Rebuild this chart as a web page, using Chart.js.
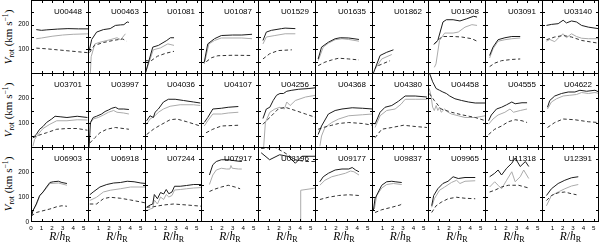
<!DOCTYPE html>
<html><head><meta charset="utf-8">
<script src="https://cdn.jsdelivr.net/npm/chart.js@4.4.0/dist/chart.umd.min.js"></script>
<style>
html,body{margin:0;padding:0;background:#fff;}
#wrap{position:relative;width:600px;height:245px;overflow:hidden;background:#fff;}
canvas{position:absolute;}
.ttl{position:absolute;font:8px "Liberation Sans",Arial,sans-serif;color:#000;white-space:nowrap;line-height:8px;text-align:right;}
.yt{position:absolute;font:11px "Liberation Serif","DejaVu Serif",serif;color:#000;white-space:nowrap;transform:translate(-50%,-50%) rotate(-90deg);line-height:11px;}
.xt{position:absolute;font:11.5px "Liberation Serif","DejaVu Serif",serif;color:#000;white-space:nowrap;transform:translate(-50%,-50%);line-height:11px;}
sub{font-size:70%;vertical-align:-0.3em;line-height:0;}
sup{font-size:70%;vertical-align:0.5em;line-height:0;}
</style></head>
<body><div id="wrap"></div>
<script>
// ---------------- data ----------------
const galaxies = ['U00448','U00463','U01081','U01087','U01529','U01635','U01862','U01908','U03091','U03140',
                  'U03701','U03997','U04036','U04107','U04256','U04368','U04380','U04458','U04555','U04622',
                  'U06903','U06918','U07244','U07917','U08196','U09177','U09837','U09965','U11318','U12391'];

const yTickLabels = [100, 200];
const yTickLabelsBottom = [0, 100, 200];
const xTickLabelsFirst = [0, 1, 2, 3, 4, 5];
const xTickLabels = [1, 2, 3, 4, 5];

// [R/hR, Vrot] pairs: black = solid dark curve, grey = solid light curve, dash = dashed curve
const U00448_black = [[0.5,180],[1.0,177],[1.5,179],[2.5,182],[3.5,184],[4.5,183],[5.5,183]];
const U00448_grey  = [[0.5,143],[1.0,146],[2.0,153],[3.0,158],[4.0,161],[5.5,163]];
const U00448_dash  = [[0.5,105],[1.5,102],[2.5,98],[3.5,94],[4.5,90],[5.5,86]];

const U00463_black = [[0.12,95],[0.35,140],[0.82,170],[1.46,180],[2.1,184],[2.6,197],[3.08,199],[3.4,200],[3.72,211],[3.88,209]];
const U00463_grey  = [[0.22,0],[0.3,70],[0.65,122],[1.15,129],[2.1,139],[2.75,147],[3.1,139],[3.55,163]];
const U00463_dash  = [[0.15,87],[0.6,116],[1.5,128],[2.5,137],[3.3,142],[3.65,133]];

const U01081_black = [[0.05,5],[0.75,109],[1.3,116],[2.1,136],[2.45,147],[2.8,147]];
const U01081_grey  = [[0.05,5],[0.8,98],[1.5,106],[2.2,122],[2.8,116]];
const U01081_dash  = [[0.0,54],[0.6,54],[1.2,72],[2.0,84],[2.8,92]];

const U01087_black = [[0.31,48],[0.64,122],[1.28,143],[1.93,156],[3.0,158],[3.87,158],[4.84,161]];
const U01087_grey  = [[0.31,41],[0.75,122],[1.28,136],[1.93,146],[3.87,146],[4.84,143]];
const U01087_dash  = [[0.5,50],[1.0,66],[1.6,74],[3.0,76],[4.84,75]];

const U01529_black = [[0.47,136],[0.79,170],[1.27,177],[2.24,184],[2.57,186],[3.54,184]];
const U01529_grey  = [[0.47,122],[0.79,150],[1.6,156],[2.57,163],[3.54,163]];
const U01529_dash  = [[0.47,61],[1.1,82],[1.92,95],[3.21,98]];

const U01635_black = [[0.3,61],[0.62,109],[1.27,129],[1.91,143],[2.4,147],[3.2,146],[4.17,140]];
const U01635_grey  = [[0.3,54],[0.78,109],[1.27,125],[1.91,139],[2.56,143],[3.2,140],[4.17,133]];
const U01635_dash  = [[0.3,34],[0.94,48],[1.59,57],[2.24,64],[3.2,61],[4.17,57]];

const U01862_black = [[0.13,3],[0.78,75],[1.42,88],[2.07,98]];
const U01862_grey  = [[0.29,20],[0.94,61],[1.91,79]];
const U01862_dash  = [[0.61,34],[1.74,54]];

const U01908_black = [[0.54,120],[0.6,122],[0.93,136],[1.42,211],[1.74,220],[2.38,220],[3.03,215],[3.67,224],[4.32,234],[4.65,231]];
const U01908_grey  = [[0.6,27],[0.76,41],[1.09,136],[1.58,166],[2.38,166],[2.87,170],[3.51,190],[4.16,200],[4.65,197]];
const U01908_dash  = [[0.6,122],[1.09,143],[1.42,152],[2.38,152],[3.19,150],[4.16,143],[4.65,133]];

const U03091_black = [[0.44,75],[0.76,109],[1.24,139],[1.89,147],[2.54,152],[3.34,152]];
const U03091_grey  = [[0.44,65],[0.76,102],[1.24,133],[1.89,139],[2.54,143],[3.34,146]];
const U03091_dash  = [[0.44,30],[0.92,44],[1.57,54],[2.54,59],[3.34,61]];

const U03140_black = [[0.43,197],[0.91,201],[1.56,204],[2.04,218],[2.36,207],[2.85,215],[3.33,211],[3.82,197],[4.47,190],[5.43,184]];
const U03140_grey  = [[0.43,133],[0.75,140],[1.23,131],[1.72,152],[2.04,163],[2.36,147],[2.85,163],[3.33,152],[3.82,145],[4.47,143],[5.43,143]];
const U03140_dash  = [[0.43,139],[1.23,150],[2.04,156],[2.85,150],[3.82,136],[5.43,125]];

const U03701_black = [[0.18,41],[0.5,54],[0.82,75],[1.14,86],[1.47,102],[1.96,116],[2.28,127],[2.76,125],[3.41,122],[4.38,127],[5.35,122]];
const U03701_grey  = [[0.18,7],[0.34,34],[0.66,54],[1.14,78],[1.79,95],[2.44,109],[3.41,109],[4.38,113],[5.35,112]];
const U03701_dash  = [[0.18,41],[0.66,50],[1.47,61],[2.44,75],[3.41,78],[4.38,78],[5.35,71]];

const U03997_black = [[0.1,0],[0.23,102],[0.49,122],[0.81,127],[1.29,136],[1.62,146],[1.94,152],[2.26,159],[2.59,163],[2.91,156],[3.39,156],[3.88,154]];
const U03997_grey  = [[0.17,95],[0.49,116],[0.97,122],[1.46,132],[1.94,143],[2.43,150],[2.75,143],[3.39,140],[3.88,136]];
const U03997_dash  = [[0.17,20],[0.65,41],[1.13,61],[1.78,75],[2.59,82],[3.88,75]];

const U04036_black = [[0.16,109],[0.48,129],[0.81,122],[0.97,143],[1.29,156],[1.78,184],[2.26,195],[2.91,195],[3.72,190],[4.69,184],[5.33,180]];
const U04036_grey  = [[0.16,95],[0.48,116],[0.97,129],[1.29,143],[1.78,156],[2.42,167],[3.39,173],[4.69,173],[5.33,170]];
const U04036_dash  = [[0.16,54],[0.81,75],[1.45,91],[2.42,113],[3.07,116],[4.04,105],[5.33,88]];

const U04107_black = [[0.31,102],[0.64,122],[1.12,156],[1.93,159],[2.58,163],[3.54,166]];
const U04107_grey  = [[0.31,88],[0.64,109],[1.12,136],[1.93,136],[2.58,140],[3.54,143]];
const U04107_dash  = [[0.48,61],[1.12,75],[1.93,88],[3.54,91]];

const U04256_black = [[0.47,118],[0.79,156],[1.12,163],[1.44,190],[1.76,211],[2.08,218],[2.41,218],[2.73,227],[3.21,231],[3.86,235],[4.83,238],[5.48,241]];
const U04256_grey  = [[0.53,0],[0.7,102],[1.12,143],[1.6,156],[2.08,163],[2.5,156],[2.73,184],[3.05,170],[3.54,190],[4.51,204],[5.48,211]];
const U04256_dash  = [[0.47,95],[1.28,129],[1.92,156],[2.57,163],[3.54,150],[4.51,136],[5.48,122]];

const U04368_black = [[0.3,54],[0.62,88],[1.27,136],[1.91,150],[2.56,156],[3.53,161],[4.5,159],[5.47,156]];
const U04368_grey  = [[0.46,7],[0.62,48],[0.94,82],[1.59,102],[2.24,116],[3.2,129],[4.5,133],[5.47,136]];
const U04368_dash  = [[0.3,75],[0.78,82],[1.59,91],[2.24,98],[3.2,102],[4.5,98],[5.47,91]];

const U04380_black = [[0.29,95],[0.78,143],[1.26,163],[1.91,170],[2.55,187],[3.2,208],[4.17,208],[5.3,204]];
const U04380_grey  = [[0.29,82],[0.78,129],[1.42,150],[2.23,156],[2.8,175],[3.2,195],[4.17,195],[5.3,195]];
const U04380_dash  = [[0.29,41],[0.94,75],[1.91,82],[3.04,91],[4.17,86],[5.3,82]];

const U04458_black = [[0.05,310],[0.44,265],[0.77,238],[1.09,231],[1.41,224],[1.74,218],[2.06,208],[2.55,197],[3.19,190],[3.84,184],[4.48,180],[5.45,180]];
const U04458_grey  = [[0.12,238],[0.28,211],[0.44,163],[0.6,150],[0.77,170],[0.93,150],[1.09,163],[1.25,143],[1.58,156],[1.9,143],[2.22,136],[2.87,129],[3.51,122],[4.48,122],[5.45,129]];
const U04458_dash  = [[0.12,218],[0.6,190],[1.25,156],[2.22,143],[3.19,133],[4.48,122],[5.45,109]];

const U04555_black = [[0.34,109],[0.6,132],[1.09,156],[1.57,163],[2.05,173],[2.54,184],[2.86,177],[3.51,181],[3.99,181]];
const U04555_grey  = [[0.34,95],[0.76,116],[1.24,132],[1.89,143],[2.37,156],[2.7,143],[3.34,150],[3.99,156]];
const U04555_dash  = [[0.34,54],[0.92,75],[1.57,88],[2.21,105],[2.86,113],[3.51,109],[3.99,102]];

const U04622_black = [[0.53,163],[0.75,190],[1.23,208],[1.88,218],[2.53,224],[3.17,224],[3.66,231],[4.3,227],[5.11,231],[5.5,224]];
const U04622_grey  = [[0.53,156],[0.91,184],[1.4,197],[2.04,208],[2.69,211],[3.33,214],[3.82,222],[4.47,218],[5.11,222],[5.5,218]];
const U04622_dash  = [[0.53,82],[1.23,102],[2.04,116],[3.17,113],[4.47,105],[5.43,102]];

const U06903_black = [[0.02,18],[0.18,45],[0.5,72],[0.82,106],[1.14,120],[1.47,140],[1.79,158],[2.11,161],[2.6,163],[2.93,158],[3.41,154]];
const U06903_grey  = [[0.02,18],[0.18,45],[0.5,68],[0.82,103],[1.47,136],[1.79,154],[2.6,156],[3.41,147]];
const U06903_dash  = [[0.02,24],[0.5,38],[1.14,45],[1.79,52],[2.44,61],[2.93,65],[3.41,63]];

const U06918_black = [[0.17,109],[0.49,120],[1.13,140],[1.78,150],[2.43,156],[3.07,158],[3.72,163],[4.37,161],[5.01,156],[5.5,154]];
const U06918_grey  = [[0.17,86],[0.81,99],[1.46,120],[2.1,127],[3.07,133],[4.04,140],[5.5,140]];
const U06918_dash  = [[0.17,72],[0.81,72],[1.46,93],[2.1,99],[3.07,95],[4.04,88],[5.5,76]];

const U07244_black = [[0.16,59],[0.5,68],[0.75,72],[0.9,110],[1.2,93],[1.5,118],[1.8,112],[2.05,130],[2.3,113],[2.6,120],[2.85,143],[3.4,143],[4.0,146],[4.7,150],[5.5,150]];
const U07244_grey  = [[0.16,45],[0.5,52],[0.75,55],[0.9,88],[1.2,72],[1.5,100],[1.8,90],[2.05,110],[2.3,100],[2.6,106],[2.85,128],[3.4,130],[4.0,133],[4.7,136],[5.5,138]];
const U07244_dash  = [[0.16,59],[0.81,61],[1.78,68],[2.75,72],[4.04,68],[5.5,63]];

const U07917_black = [[0.8,188],[1.12,229],[1.45,242],[1.93,249],[2.58,249],[3.22,245],[3.87,242]];
const U07917_grey  = [[0.8,150],[1.12,188],[1.45,208],[1.93,215],[2.41,212],[2.74,212],[2.84,226],[2.96,215],[3.55,212],[3.87,212]];
const U07917_dash  = [[0.8,122],[1.28,131],[1.93,140],[2.58,147],[3.22,140],[3.71,133]];

const U08196_black = [[0.3,277],[1.1,249],[2.05,269],[2.9,262],[3.54,235],[4.18,263],[5.5,263]];
const U08196_grey  = [[4.0,0],[4.05,127],[5.5,136]];
const U08196_dash  = [[0.3,294],[1.6,299],[2.57,276],[3.54,249],[4.5,242],[5.5,242]];

const U09177_black = [[0.46,161],[0.78,181],[1.27,195],[1.91,208],[2.56,212],[3.2,212],[3.53,218],[3.85,208],[4.17,201]];
const U09177_grey  = [[0.46,147],[0.94,167],[1.59,181],[2.24,188],[2.88,195],[3.37,204],[3.69,201],[4.17,188]];
const U09177_dash  = [[0.46,90],[1.27,99],[2.24,106],[3.2,109],[4.17,106]];

const U09837_black = [[0.13,45],[0.29,93],[0.61,120],[0.94,147],[1.42,161],[1.91,163],[2.23,161],[2.87,158]];
const U09837_grey  = [[0.23,52],[0.45,106],[0.94,136],[1.42,150],[2.07,154],[2.87,150]];
const U09837_dash  = [[0.29,38],[0.94,49],[1.91,59],[2.71,68],[2.87,72]];

const U09965_black = [[0.35,65],[0.54,106],[0.93,133],[1.41,154],[1.9,163],[2.38,181],[2.87,174],[3.51,178],[4.48,178]];
const U09965_grey  = [[0.35,59],[0.6,93],[1.09,127],[1.58,140],[2.22,158],[2.71,167],[3.03,154],[3.51,163],[4.48,165]];
const U09965_dash  = [[0.35,38],[0.77,65],[1.25,79],[1.9,93],[2.71,99],[3.51,95],[4.48,93]];

const U11318_black = [[0.44,181],[0.92,195],[1.24,208],[1.57,188],[2.05,215],[2.54,235],[2.86,256],[3.34,222],[3.83,242],[4.15,222]];
const U11318_grey  = [[0.44,140],[0.92,161],[1.24,147],[1.57,133],[2.05,167],[2.54,201],[2.86,161],[3.34,181],[3.67,208],[4.15,174]];
const U11318_dash  = [[0.44,120],[0.92,127],[1.57,140],[2.21,147],[3.18,147],[4.15,136]];

const U12391_black = [[0.43,106],[0.91,133],[1.56,154],[2.2,167],[2.85,177],[3.5,181]];
const U12391_grey  = [[0.43,65],[0.91,106],[1.56,120],[2.2,133],[2.85,144],[3.5,150]];
const U12391_dash  = [[0.43,86],[0.91,106],[1.56,117],[2.2,120],[2.85,113],[3.33,109]];

// lookup table built from the named arrays
const curves = {
  U00448:[U00448_black,U00448_grey,U00448_dash], U00463:[U00463_black,U00463_grey,U00463_dash],
  U01081:[U01081_black,U01081_grey,U01081_dash], U01087:[U01087_black,U01087_grey,U01087_dash],
  U01529:[U01529_black,U01529_grey,U01529_dash], U01635:[U01635_black,U01635_grey,U01635_dash],
  U01862:[U01862_black,U01862_grey,U01862_dash], U01908:[U01908_black,U01908_grey,U01908_dash],
  U03091:[U03091_black,U03091_grey,U03091_dash], U03140:[U03140_black,U03140_grey,U03140_dash],
  U03701:[U03701_black,U03701_grey,U03701_dash], U03997:[U03997_black,U03997_grey,U03997_dash],
  U04036:[U04036_black,U04036_grey,U04036_dash], U04107:[U04107_black,U04107_grey,U04107_dash],
  U04256:[U04256_black,U04256_grey,U04256_dash], U04368:[U04368_black,U04368_grey,U04368_dash],
  U04380:[U04380_black,U04380_grey,U04380_dash], U04458:[U04458_black,U04458_grey,U04458_dash],
  U04555:[U04555_black,U04555_grey,U04555_dash], U04622:[U04622_black,U04622_grey,U04622_dash],
  U06903:[U06903_black,U06903_grey,U06903_dash], U06918:[U06918_black,U06918_grey,U06918_dash],
  U07244:[U07244_black,U07244_grey,U07244_dash], U07917:[U07917_black,U07917_grey,U07917_dash],
  U08196:[U08196_black,U08196_grey,U08196_dash], U09177:[U09177_black,U09177_grey,U09177_dash],
  U09837:[U09837_black,U09837_grey,U09837_dash], U09965:[U09965_black,U09965_grey,U09965_dash],
  U11318:[U11318_black,U11318_grey,U11318_dash], U12391:[U12391_black,U12391_grey,U12391_dash]
};

// ---------------- layout ----------------
const colEdges = [31,88,145,201,258,315,372,428,485,542,598];
const rowEdges = [0,73,147,221];
const PAD = 9;          // extra canvas room above/below first-column panels for y tick labels
const X_AXIS_H = 14;    // room below the bottom row for x tick labels
const wrap = document.getElementById('wrap');

// y-axis titles first (painted underneath the canvases)
for (let r = 0; r < 3; r++) {
  const yt = document.createElement('div');
  yt.className = 'yt';
  yt.innerHTML = '<i>V</i><sub>rot</sub> (km s<sup>\u22121</sup>)';
  yt.style.left = '8px';
  yt.style.top = ((rowEdges[r] + rowEdges[r + 1]) / 2) + 'px';
  wrap.appendChild(yt);
}

const framePlugin = {
  id: 'frame',
  afterDatasetsDraw(chart) {
    const {ctx, chartArea: a, scales: {x, y}} = chart;
    ctx.save();
    ctx.strokeStyle = '#000';
    ctx.lineWidth = 1;
    ctx.setLineDash([]);
    ctx.beginPath();
    for (let v = 1; v <= 5; v++) {
      const px = Math.round(x.getPixelForValue(v)) + 0.5;
      ctx.moveTo(px, a.top); ctx.lineTo(px, a.top + 3);
      ctx.moveTo(px, a.bottom); ctx.lineTo(px, a.bottom - 3);
    }
    for (let v = 50; v < 300; v += 50) {
      const py = Math.round(y.getPixelForValue(v)) + 0.5;
      ctx.moveTo(a.left, py); ctx.lineTo(a.left + 3, py);
      ctx.moveTo(a.right, py); ctx.lineTo(a.right - 3, py);
    }
    ctx.stroke();
    ctx.strokeRect(a.left + 0.5, a.top + 0.5, a.right - a.left - 1, a.bottom - a.top - 1);
    ctx.restore();
  }
};

galaxies.forEach((name, i) => {
  const row = Math.floor(i / 10), col = i % 10;
  const firstCol = col === 0, lastRow = row === 2;
  const plotH = rowEdges[row + 1] - rowEdges[row] + 1;
  const padTop = firstCol ? PAD : 0;
  const padBottom = (firstCol && !lastRow) ? PAD : 0;
  const left = firstCol ? 0 : colEdges[col];
  const top = rowEdges[row] - padTop;
  const right = colEdges[col + 1] + 1;
  const cv = document.createElement('canvas');
  cv.width = right - left;
  cv.height = padTop + plotH + padBottom + (lastRow ? X_AXIS_H : 0);
  cv.style.left = left + 'px';
  cv.style.top = top + 'px';
  wrap.appendChild(cv);

  const [blk, gry, dsh] = curves[name];
  const toPts = arr => arr.map(([x, y]) => ({x, y}));

  const xScale = {
    type: 'linear', min: 0, max: 5.5,
    display: lastRow,
    grid: {display: false, drawTicks: false},
    border: {display: false},
    ticks: {font: {family: '"Liberation Sans", Arial, sans-serif', size: 6.2}, color: '#000', padding: 3, autoSkip: false, maxRotation: 0}
  };
  if (lastRow) {
    xScale.afterBuildTicks = s => { s.ticks = (firstCol ? xTickLabelsFirst : xTickLabels).map(v => ({value: v})); };
    xScale.afterFit = s => { s.height = X_AXIS_H; };
  }
  const yScale = {
    type: 'linear', min: 0, max: 300,
    display: firstCol,
    grid: {display: false, drawTicks: false},
    border: {display: false},
    ticks: {font: {family: '"Liberation Sans", Arial, sans-serif', size: 6.5}, color: '#000', padding: 2, autoSkip: false}
  };
  if (firstCol) {
    yScale.afterBuildTicks = s => { s.ticks = (lastRow ? yTickLabelsBottom : yTickLabels).map(v => ({value: v})); };
    yScale.afterFit = s => { s.width = colEdges[0]; };
  }

  new Chart(cv, {
    type: 'line',
    data: {
      datasets: [
        {label: 'black', data: toPts(blk), borderColor: '#1c1c1c', borderWidth: 1, pointRadius: 0, tension: 0, fill: false},
        {label: 'dash', data: toPts(dsh), borderColor: '#333333', borderWidth: 1, borderDash: [3.5, 2.5], pointRadius: 0, tension: 0, fill: false},
        {label: 'grey', data: toPts(gry), borderColor: '#ababab', borderWidth: 1, pointRadius: 0, tension: 0, fill: false}
      ]
    },
    options: {
      responsive: false,
      animation: false,
      devicePixelRatio: 1,
      events: [],
      layout: {padding: {top: padTop, bottom: padBottom, left: 0, right: 0}},
      plugins: {legend: {display: false}, tooltip: {enabled: false}, title: {display: false}},
      scales: {x: xScale, y: yScale}
    },
    plugins: [framePlugin]
  });

  // panel title
  const t = document.createElement('div');
  t.className = 'ttl';
  t.textContent = name;
  t.style.right = (600 - (colEdges[col + 1] - 6)) + 'px';
  t.style.top = (rowEdges[row] + 8) + 'px';
  wrap.appendChild(t);

  // x-axis title under bottom row
  if (lastRow) {
    const xt = document.createElement('div');
    xt.className = 'xt';
    xt.innerHTML = '<i>R</i>/<i>h</i><sub>R</sub>';
    xt.style.left = ((colEdges[col] + colEdges[col + 1]) / 2 + 0.5) + 'px';
    xt.style.top = '236px';
    wrap.appendChild(xt);
  }
});
</script>
</body></html>
